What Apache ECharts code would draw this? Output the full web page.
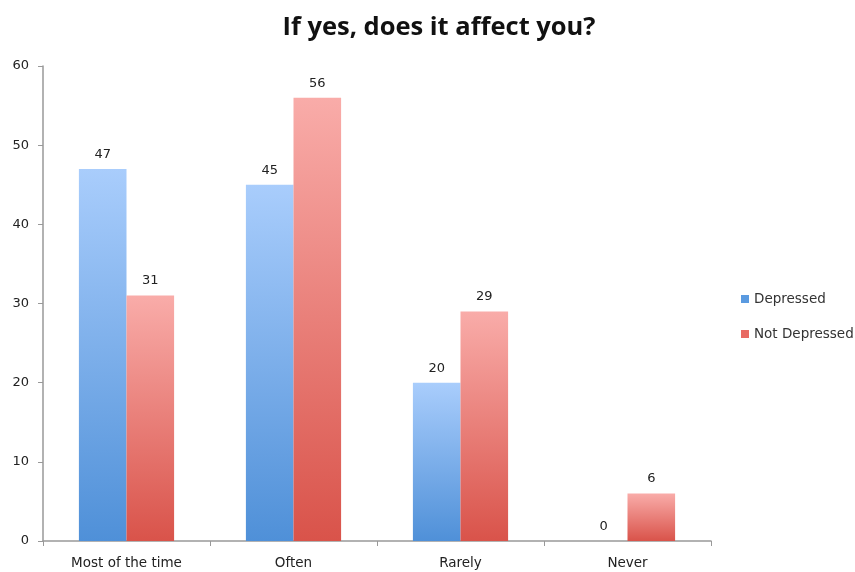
<!DOCTYPE html>
<html><head><meta charset="utf-8">
<script src="https://cdn.jsdelivr.net/npm/echarts@6/dist/echarts.min.js"></script>
<style>html,body{margin:0;padding:0;background:#fff}#c{width:855px;height:572px}</style>
</head><body><div id="c"></div>
<script>
const categories = ["Most of the time", "Often", "Rarely", "Never"];
const depressed = [47, 45, 20, 0];
const notDepressed = [31, 56, 29, 6];
const yTicks = [0, 10, 20, 30, 40, 50, 60];

const chart = echarts.init(document.getElementById('c'));
const font = '"DejaVu Sans", sans-serif';
function grad(top, bottom) {
  return new echarts.graphic.LinearGradient(0, 0, 0, 1, [{offset: 0, color: top}, {offset: 1, color: bottom}]);
}
const lbl = {show: true, position: 'top', distance: 8, fontFamily: font, fontSize: 13, color: '#222'};
chart.setOption({
  animation: false,
  title: {
    text: 'If yes, does it affect you?', left: 434, top: 10, textAlign: 'center',
    textStyle: {fontFamily: '"Open Sans", sans-serif', fontWeight: 'bold', fontSize: 25.5, color: '#111'}
  },
  legend: {
    orient: 'vertical', left: 736, top: 287, itemGap: 21,
    itemWidth: 8, itemHeight: 8, icon: 'rect',
    textStyle: {fontFamily: font, fontSize: 13.5, color: '#333'},
    data: [{name: 'Depressed', itemStyle: {color: '#5a9ae0'}}, {name: 'Not Depressed', itemStyle: {color: '#e86a63'}}]
  },
  grid: {left: 43, top: 66, width: 668, height: 475, containLabel: false},
  xAxis: {
    type: 'category', data: categories,
    axisLine: {lineStyle: {color: '#999', width: 1.5}},
    axisTick: {show: true, length: 5, lineStyle: {color: '#999'}},
    axisLabel: {fontFamily: font, fontSize: 13.5, color: '#222', margin: 15}
  },
  yAxis: {
    type: 'value', min: yTicks[0], max: yTicks[yTicks.length - 1], interval: 10,
    splitLine: {show: false},
    axisLine: {show: true, lineStyle: {color: '#999', width: 1.5}},
    axisTick: {show: true, length: 5, lineStyle: {color: '#999'}},
    axisLabel: {fontFamily: font, fontSize: 13, color: '#222', margin: 14}
  },
  series: [
    {
      name: 'Depressed', type: 'bar', data: depressed, barGap: '0%', barCategoryGap: '43%',
      itemStyle: {color: grad('#a9cdfc', '#4f90d8')}, label: lbl
    },
    {
      name: 'Not Depressed', type: 'bar', data: notDepressed,
      itemStyle: {color: grad('#f9aca9', '#d9534a')}, label: lbl
    }
  ]
});
</script></body></html>
